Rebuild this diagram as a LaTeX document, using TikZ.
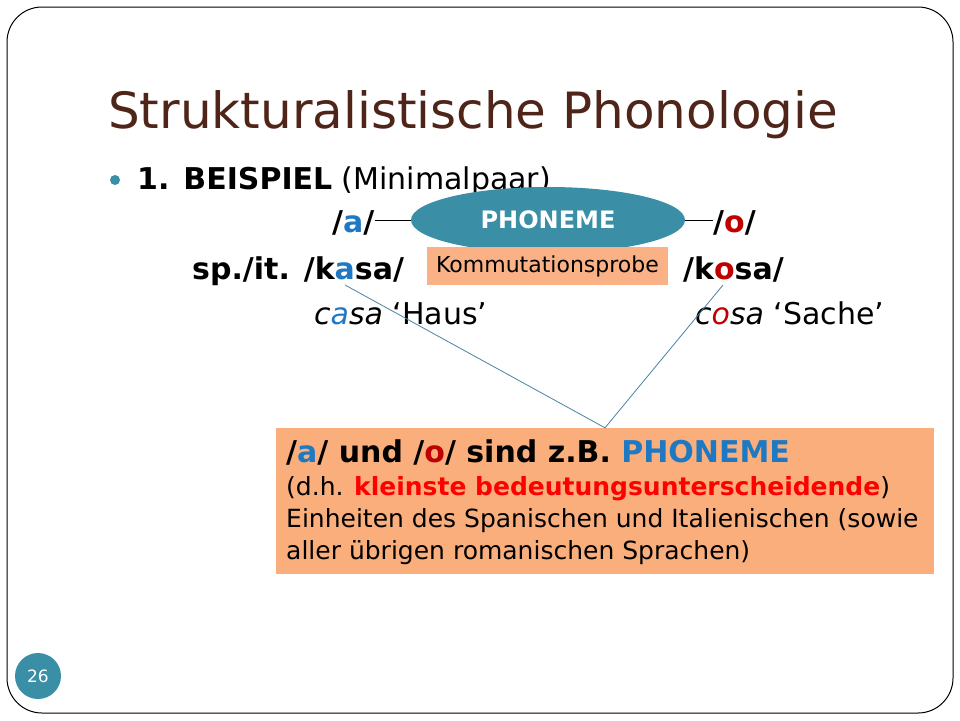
\documentclass[tikz,border=0pt]{standalone}
\usepackage{fontspec}
\setmainfont{DejaVu Sans}
\usetikzlibrary{shapes.geometric}
\definecolor{titlebrown}{HTML}{4F2519}
\definecolor{phonteal}{HTML}{3A8FA7}
\definecolor{probeorange}{HTML}{F9B185}
\definecolor{boxorange}{HTML}{F9AE7C}
\definecolor{vowelblue}{HTML}{1E78C2}
\definecolor{vowelred}{HTML}{C00000}
\definecolor{redtext}{HTML}{FF0000}
\definecolor{linkblue}{HTML}{4A82A0}
\newcommand{\va}{{\color{vowelblue}a}}
\newcommand{\vo}{{\color{vowelred}o}}
\tikzset{
  txt/.style={anchor=base west,inner sep=0pt},
  big/.style={font=\fontsize{30}{34}\selectfont},
  bigbold/.style={font=\fontsize{30}{34}\selectfont\bfseries},
  small/.style={font=\fontsize{25}{29}\selectfont},
  link/.style={linkblue,line width=0.8pt}
}
\begin{document}
\begin{tikzpicture}[x=1pt,y=-1pt]
    \useasboundingbox (0,0) rectangle (960,720);
    \draw[line width=1pt,rounded corners=35pt] (7,7) rectangle (953,713);
    \node[txt,titlebrown,font=\fontsize{50}{56}\selectfont] (title) at (108,128) {Strukturalistische Phonologie};
    \node[circle,fill=phonteal,inner sep=0pt,minimum size=10pt] (dot) at (115,180) {};
    \node[txt,big] (beispiel) at (137,189) {\textbf{1. BEISPIEL} (Minimalpaar)};
    \node[ellipse,fill=phonteal,minimum width=274pt,minimum height=66pt,inner sep=0pt,text=white,font=\fontsize{24}{28}\selectfont\bfseries] (phon) at (548,220) {PHONEME};
    \node[txt,bigbold] (a) at (332,232) {/\va/};
    \node[txt,bigbold] (o) at (713,232) {/\vo/};
    \draw (a.east |- phon.west) -- (phon.west);
    \draw (phon.east) -- (o.west |- phon.east);
    \node[fill=probeorange,minimum width=241pt,minimum height=38pt,inner sep=0pt,font=\fontsize{22}{26}\selectfont] (probe) at (547.5,266) {Kommutationsprobe};
    \node[txt,bigbold] (kasa) at (192,279) {sp./it. /k\va sa/};
    \node[txt,bigbold] (kosa) at (683,279) {/k\vo sa/};
    \node[txt,big] (casa) at (314,324) {\textit{c\va sa} ‘Haus’};
    \node[txt,big] (cosa) at (695,324) {\textit{c\vo sa} ‘Sache’};
    \node[fill=boxorange,minimum width=658pt,minimum height=146pt,inner sep=0pt] (info) at (605,501) {};
    \coordinate (kasavowel) at (345,285);
    \coordinate (kosavowel) at (723,285);
    \draw[link] (kasavowel) -- (info.north);
    \draw[link] (kosavowel) -- (info.north);
    \node[txt,bigbold] (info1) at (286,462) {/\va/ und /\vo/ sind z.B. {\color{vowelblue}PHONEME}};
    \node[txt,small] (info2) at (286,495) {(d.h. {\color{redtext}\bfseries kleinste bedeutungsunterscheidende})};
    \node[txt,small] (info3) at (286,527) {Einheiten des Spanischen und Italienischen (sowie};
    \node[txt,small] (info4) at (286,559) {aller übrigen romanischen Sprachen)};
    \node[circle,fill=phonteal,minimum size=46pt,inner sep=0pt,text=white,font=\fontsize{17}{20}\selectfont] (page) at (38,676) {26};
\end{tikzpicture}
\end{document}
